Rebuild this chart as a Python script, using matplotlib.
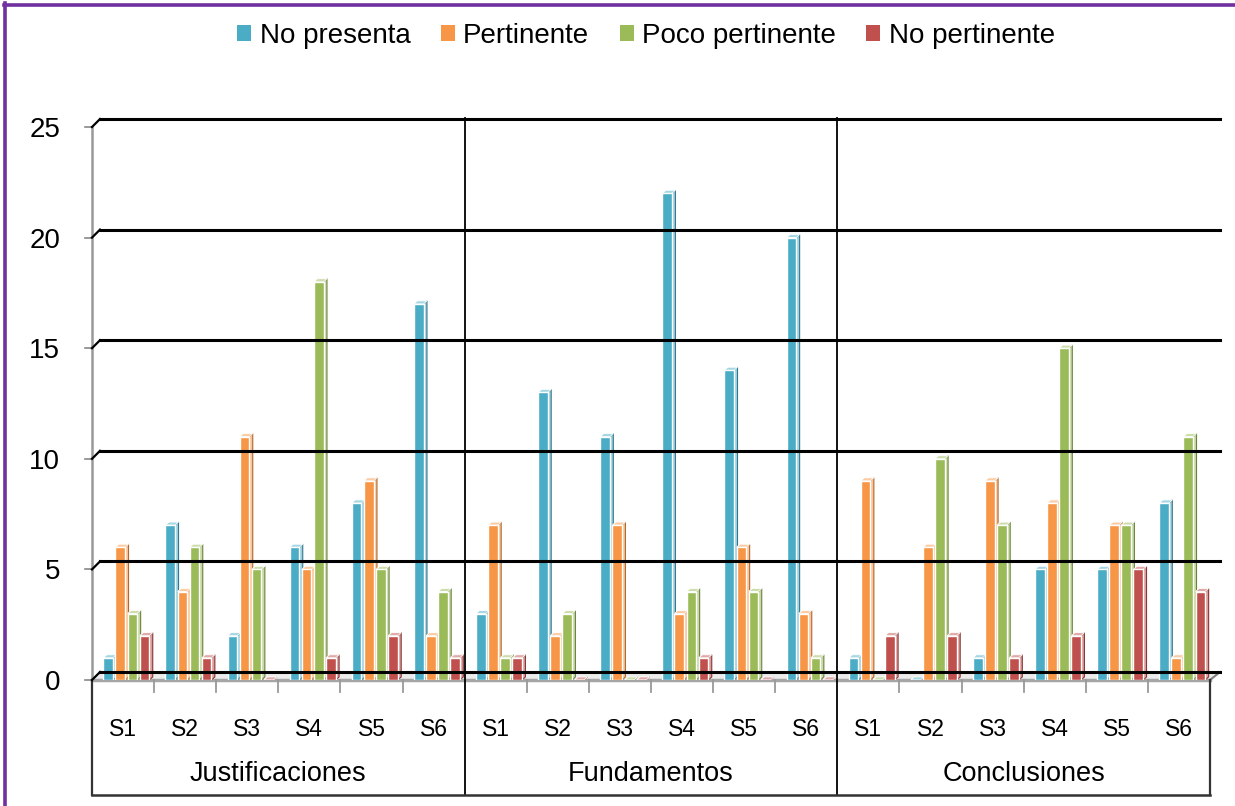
import numpy as np
import matplotlib.pyplot as plt
from matplotlib.patches import Polygon, Rectangle
from matplotlib.lines import Line2D
from matplotlib.colors import to_rgb

plt.rcParams['font.family'] = ['Liberation Sans', 'DejaVu Sans']

groups = ["Justificaciones", "Fundamentos", "Conclusiones"]
sessions = ["S1", "S2", "S3", "S4", "S5", "S6"]
series = ["No presenta", "Pertinente", "Poco pertinente", "No pertinente"]
colors = ["#4BACC6", "#F79646", "#9BBB59", "#C0504D"]

# one row per group, one column per session
no_presenta = [[1, 7, 2, 6, 8, 17],
               [3, 13, 11, 22, 14, 20],
               [1, 0, 1, 5, 5, 8]]
pertinente = [[6, 4, 11, 5, 9, 2],
              [7, 2, 7, 3, 6, 3],
              [9, 6, 9, 8, 7, 1]]
poco_pertinente = [[3, 6, 5, 18, 5, 4],
                   [1, 3, 0, 4, 4, 1],
                   [0, 10, 7, 15, 7, 11]]
no_pertinente = [[2, 1, 0, 1, 2, 1],
                 [1, 0, 0, 1, 0, 0],
                 [2, 2, 1, 2, 5, 4]]
values = [no_presenta, pertinente, poco_pertinente, no_pertinente]
yticks = [0, 5, 10, 15, 20, 25]


def tint(c, f):
    r, g, b = to_rgb(c)
    return (r + (1 - r) * f, g + (1 - g) * f, b + (1 - b) * f)


def shade(c, f):
    r, g, b = to_rgb(c)
    return (r * f, g * f, b * f)


W, H = 1235, 806
fig = plt.figure(figsize=(W / 100, H / 100), dpi=100)

# purple frame along top and left edge
fig.add_artist(Line2D([5 / W, 5 / W], [0, 1 - 3 / H], color="#7030A0", lw=2.6))
fig.add_artist(Line2D([4 / W, 1], [1 - 5 / H, 1 - 5 / H], color="#7030A0", lw=2.6))

x0, x1 = 92, 1210
y0, y1 = 680, 127
ax = fig.add_axes([x0 / W, (H - y0) / H, (x1 - x0) / W, (y0 - y1) / H])
n = len(groups) * len(sessions)
ax.set_xlim(-0.5, n - 0.5)
ax.set_ylim(0, 25)
for s in ax.spines.values():
    s.set_visible(False)
ax.set_xticks([])
ax.set_yticks(yticks)
ax.set_yticklabels([str(v) for v in yticks], fontsize=20)
ax.tick_params(axis="y", length=0, pad=23)

# back wall: gridlines shifted up and right by 8 px
ytr = ax.get_yaxis_transform()
for yv in yticks:
    px, py = ax.transData.transform((-0.5, yv))
    fig.add_artist(Line2D([(px + 8) / W, (x1 + 10) / W], [(py + 8) / H, (py + 8) / H],
                          color="black", lw=2.2, zorder=1))
    fig.add_artist(Line2D([px / W, (px + 8) / W], [py / H, (py + 8) / H],
                          color="black", lw=1.6, zorder=1))
    ax.plot([-7 / (x1 - x0), 0], [yv, yv], color="#888888", lw=1.2,
            transform=ytr, clip_on=False, zorder=2)

# left axis line
ax.plot([0, 0], [0, 25], color="#999999", lw=1.8, transform=ytr, clip_on=False, zorder=2)

# floor
ux = 1 / 62.1
uy = 1 / 22.12
floor = Polygon([(-0.5, 0), (n - 0.5, 0), (n - 0.5 + 10 * ux, 8 * uy), (-0.5 + 8 * ux, 8 * uy)],
                closed=True, facecolor="#ececec", edgecolor="none", zorder=1.5, clip_on=False)
ax.add_patch(floor)
ax.plot([-0.5, n - 0.5], [0, 0], color="#a6a6a6", lw=2.5, zorder=2, clip_on=False)
ax.plot([n - 0.5, n - 0.5 + 10 * ux], [0, 8 * uy], color="#7f7f7f", lw=1.5, zorder=2, clip_on=False)

# bars with a side face and a top cap
pitch, bw, dx, dy = 0.195, 0.155, 0.055, 0.14
shift = 0.053
for k in range(len(series)):
    c = colors[k]
    for g in range(len(groups)):
        for s in range(len(sessions)):
            h = values[k][g][s]
            xc = g * len(sessions) + s + (k - 1.5) * pitch + shift
            xl, xr = xc - bw / 2, xc + bw / 2
            side = Polygon([(xr, 0), (xr + dx, dy), (xr + dx, h + dy), (xr, h)], closed=True,
                           facecolor=tint(c, 0.45), edgecolor=shade(c, 0.7), lw=0.8, zorder=3)
            top = Polygon([(xl, h), (xl + dx, h + dy), (xr + dx, h + dy), (xr, h)], closed=True,
                          facecolor=tint(c, 0.5), edgecolor="white", lw=0.6, zorder=3)
            front = Rectangle((xl, 0), bw, h, facecolor=c, edgecolor="white", lw=1.0, zorder=4)
            ax.add_patch(side)
            ax.add_patch(top)
            ax.add_patch(front)

# group separators through the plot and the category table
bt = -115 / (y0 - y1)
tt = 1 + 9 / (y0 - y1)
xtr = ax.get_xaxis_transform()
for b in [5.5, 11.5]:
    ax.plot([b, b], [bt, tt], color="black", lw=1.3, transform=xtr, clip_on=False, zorder=2)
for b in [-0.5, n - 0.5]:
    ax.plot([b, b], [bt, 0], color="#333333", lw=1.6, transform=xtr, clip_on=False)
ax.plot([-0.5, n - 0.5], [bt, bt], color="#333333", lw=1.8, transform=xtr, clip_on=False)

# small ticks between sessions
for i in range(n - 1):
    b = i + 0.5
    if b in (5.5, 11.5):
        continue
    ax.plot([b, b], [0, -12 / (y0 - y1)], color="#999999", lw=1.3, transform=xtr, clip_on=False)

# category labels
for g, name in enumerate(groups):
    for s, lab in enumerate(sessions):
        ax.text(g * len(sessions) + s, -49 / (y0 - y1), lab, transform=xtr,
                ha="center", va="center", fontsize=16.5)
    ax.text(g * len(sessions) + 2.5, -94 / (y0 - y1), name, transform=xtr,
            ha="center", va="center", fontsize=19.5)

# legend
handles = [Rectangle((0, 0), 1, 1, facecolor=c, edgecolor="none") for c in colors]
fig.legend(handles, series, loc="center", bbox_to_anchor=(646 / W, 1 - 36 / H), ncol=4,
           frameon=False, fontsize=20, handlelength=0.5, handleheight=0.5,
           handletextpad=0.3, columnspacing=1.1)

fig.savefig("out.png", dpi=100)
